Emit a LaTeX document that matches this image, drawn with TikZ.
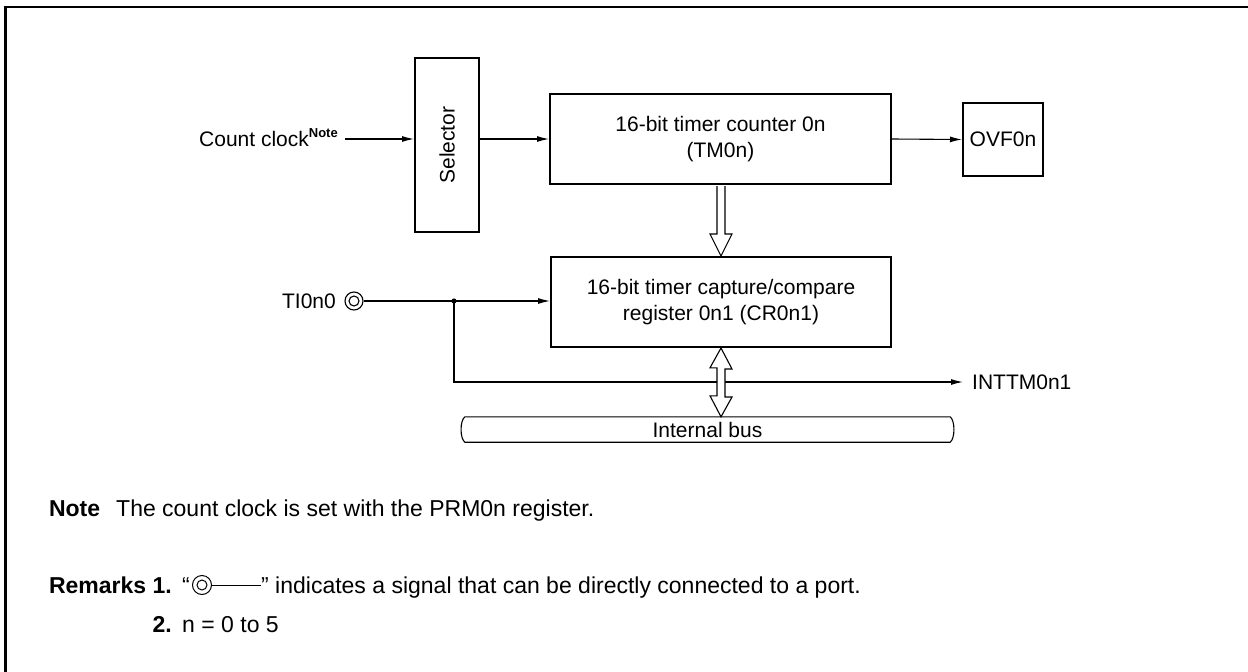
\documentclass[tikz,border=0pt]{standalone}
\usepackage{fontspec}
\setmainfont{Liberation Sans}
\usetikzlibrary{arrows.meta,calc}
\begin{document}
\begin{tikzpicture}[x=1pt,y=-1pt,
  every node/.style={font=\fontsize{21}{26}\selectfont, inner sep=0pt},
  blk/.style={draw, line width=2pt, align=center},
  sig/.style={line width=1.1pt, -{Latex[length=12pt,width=6pt]}},
  wire/.style={line width=1.1pt},
  hollow/.style={draw, line width=1.1pt, fill=white, line join=miter},
  txt/.style={font=\fontsize{23}{28}\selectfont},
  lbl/.style={font=\fontsize{23}{28}\selectfont\bfseries}]
\useasboundingbox (0,0) rectangle (1248,672);
\draw[line width=2.5pt] (5.5,672) -- (5.5,7) -- (1248,7);

% blocks
\node[blk, minimum width=64, minimum height=174] (sel) at (447,145) {\rotatebox{90}{Selector}};
\node[blk, minimum width=341, minimum height=90] (tm) at (720.5,139) {16-bit timer counter 0n\\(TM0n)};
\node[blk, minimum width=80, minimum height=73] (ovf) at (1003,139.5) {OVF0n};
\node[blk, minimum width=340, minimum height=90] (cr) at (721,302) {16-bit timer capture/compare\\register 0n1 (CR0n1)};

% count clock
\node[anchor=base east] (cc) at (338,146) {Count clock\raisebox{9pt}{\fontsize{13}{13}\selectfont\bfseries Note}};
\coordinate (ccend) at (345,139);
\draw[sig] (ccend) -- (ccend -| sel.west);
\draw[sig] (sel.east |- tm.west) -- (tm.west);
\draw[sig] (tm.east) -- (ovf.west);

% hollow arrow TM -> CR
\path (tm.south) coordinate (a1) (cr.north) coordinate (a2);
\draw[hollow] ($(a2 |- a1)+(-4,1)$) -- ($(a2)+(-4,-22)$) -- ($(a2)+(-11,-22)$) -- (a2)
  -- ($(a2)+(11,-22)$) -- ($(a2)+(4,-22)$) -- ($(a2 |- a1)+(4,1)$);

% TI0n0 input
\node[anchor=east] (ti) at (336,301) {TI0n0};
\node[circle, draw, line width=1.1pt, minimum size=18] (pin) at (354,301) {};
\node[circle, draw, line width=1.1pt, minimum size=10] (pinin) at (pin.center) {};
\coordinate (jn) at (454,301);
\draw[sig] (pin.east) -- (cr.west |- pin.east);
\fill (jn) circle (2.6);

% internal bus
\node[minimum width=485, minimum height=25] (bus) at (707.5,429.5) {Internal bus};
\node[anchor=west] (int) at (972,382) {INTTM0n1};
\draw[sig, shorten >=9pt] (jn) |- (int.west);
\draw[wire] (bus.north west) -- (bus.north east)
  .. controls +(5,4) and +(5,-4) .. (bus.south east) -- (bus.south west)
  .. controls +(-5,-4) and +(-5,4) .. (bus.north west);

% double hollow arrow CR <-> bus
\path (cr.south) coordinate (b1);
\coordinate (b2) at (b1 |- bus.north);
\draw[hollow] (b1) -- ++(11,21) -- ++(-7,0) -- ++(0,28) -- ++(7,0) -- (b2)
  -- ++(-11,-21) -- ++(7,0) -- ++(0,-28) -- ++(-7,0) -- cycle;

% notes
\coordinate (nl) at (0,516);
\node[lbl, anchor=base east] (rem) at (172,593) {Remarks 1.};
\node[lbl, anchor=base west] (note) at (rem.base west |- nl) {Note};
\node[txt, anchor=base west] (notet) at (116,516) {The count clock is set with the PRM0n register.};
\node[txt, anchor=base west] (q1) at (182,593) {``};
\node[circle, draw, line width=1pt, minimum size=19] (sym) at (202,585) {};
\node[circle, draw, line width=1pt, minimum size=10] (symin) at (sym.center) {};
\coordinate (symend) at (261,585);
\draw[line width=1pt] (sym.east) -- (symend);
\node[txt, anchor=base west] (rem1) at (symend |- q1.base) {'' indicates a signal that can be directly connected to a port.};
\node[lbl, anchor=base east] (rem2n) at (172,632) {2.};
\node[txt, anchor=base west] (rem2) at (182,632) {n = 0 to 5};
\end{tikzpicture}
\end{document}
